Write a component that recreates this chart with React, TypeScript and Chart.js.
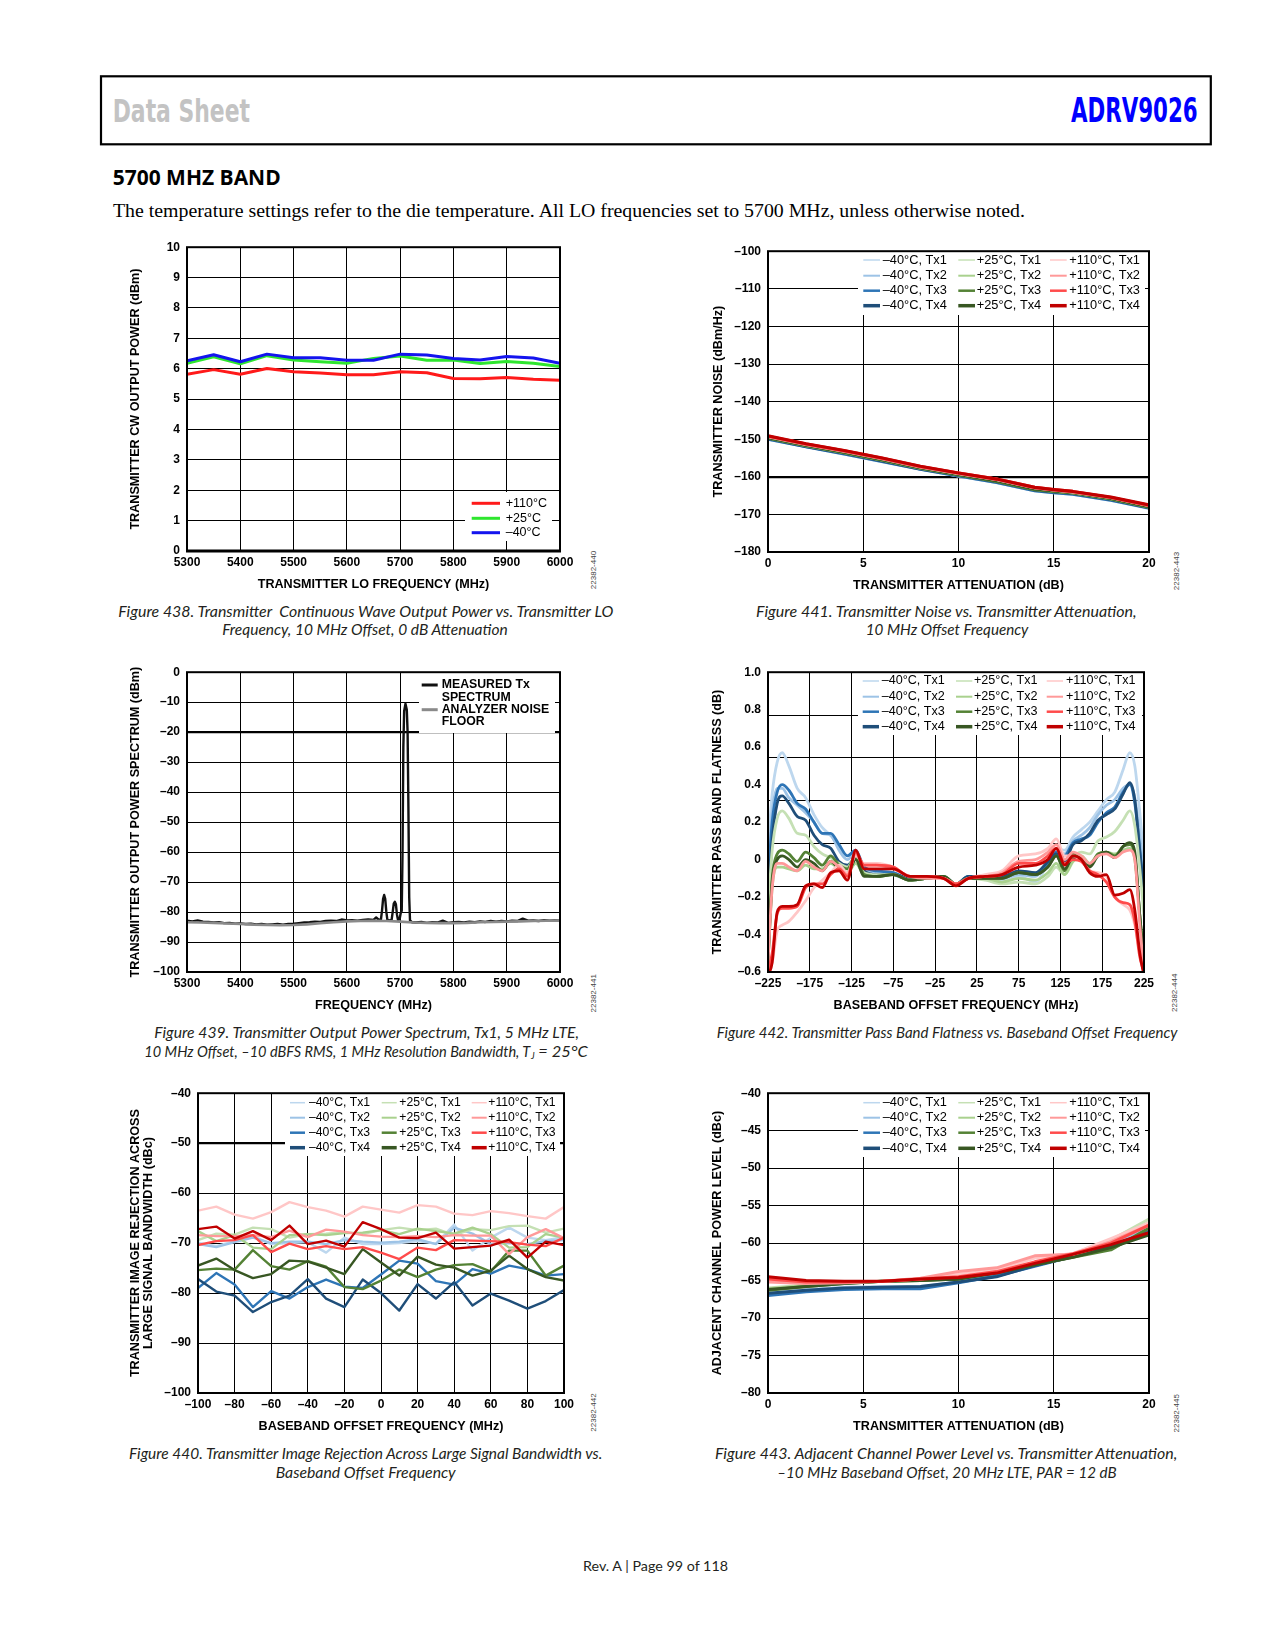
import React, { useEffect, useRef } from "react";
import { Chart, registerables } from "chart.js";

Chart.register(...registerables);

const FONT = "'Liberation Sans', Arial, Helvetica, sans-serif";
const COND = "'DejaVu Sans Condensed', 'DejaVu Sans', sans-serif";
const HEAD = "'Open Sans', 'Noto Sans', sans-serif";
const SERIF = "'Liberation Serif', 'DejaVu Serif', serif";
const CAP = "Lato, 'Open Sans', sans-serif";
Chart.defaults.font.family = FONT;
Chart.defaults.color = "#000";

// ---------------- Figure 438 ----------------
const F438_FREQ = [5300, 5350, 5400, 5450, 5500, 5550, 5600, 5650, 5700, 5750, 5800, 5850, 5900, 5950, 6000];
const F438_P110 = [5.82, 5.97, 5.82, 6.01, 5.9, 5.86, 5.8, 5.8, 5.9, 5.87, 5.68, 5.67, 5.71, 5.65, 5.62];
const F438_P25 = [6.18, 6.39, 6.16, 6.43, 6.29, 6.23, 6.18, 6.34, 6.42, 6.28, 6.29, 6.17, 6.24, 6.18, 6.07];
const F438_M40 = [6.26, 6.46, 6.23, 6.48, 6.36, 6.36, 6.28, 6.28, 6.48, 6.45, 6.34, 6.29, 6.4, 6.35, 6.18];
const F438_LABELS = ["+110°C", "+25°C", "–40°C"];
const F438_XTICKS = [5300, 5400, 5500, 5600, 5700, 5800, 5900, 6000];
const F438_YTICKS = [0, 1, 2, 3, 4, 5, 6, 7, 8, 9, 10];

// ---------------- Figure 441 ----------------
const F441_ATT = [0, 2, 4, 6, 8, 10, 12, 14, 15, 16, 18, 20];
const F441_M40_TX1 = [-150.0, -152.0, -153.9, -156.0, -158.0, -159.8, -161.5, -163.7, -164.2, -164.6, -166.2, -168.4];
const F441_M40_TX2 = [-149.9, -151.9, -153.8, -155.9, -157.9, -159.7, -161.4, -163.6, -164.1, -164.5, -166.1, -168.3];
const F441_M40_TX3 = [-150.0, -152.0, -153.9, -155.9, -158.0, -159.8, -161.5, -163.7, -164.2, -164.6, -166.2, -168.3];
const F441_M40_TX4 = [-149.8, -151.9, -153.7, -155.8, -157.9, -159.6, -161.3, -163.5, -164.0, -164.4, -166.0, -168.2];
const F441_P25_TX1 = [-149.6, -151.7, -153.5, -155.5, -157.7, -159.4, -161.1, -163.3, -163.8, -164.2, -165.8, -168.0];
const F441_P25_TX2 = [-149.6, -151.6, -153.5, -155.5, -157.6, -159.4, -161.0, -163.2, -163.8, -164.2, -165.8, -167.9];
const F441_P25_TX3 = [-149.7, -151.7, -153.6, -155.6, -157.7, -159.5, -161.2, -163.4, -163.9, -164.3, -165.9, -168.1];
const F441_P25_TX4 = [-149.5, -151.6, -153.4, -155.4, -157.6, -159.3, -161.0, -163.2, -163.7, -164.1, -165.7, -167.9];
const F441_P110_TX1 = [-149.3, -151.4, -153.2, -155.2, -157.4, -159.1, -160.7, -162.9, -163.5, -164.0, -165.5, -167.6];
const F441_P110_TX2 = [-149.2, -151.3, -153.1, -155.1, -157.3, -159.1, -160.7, -162.9, -163.5, -164.0, -165.5, -167.6];
const F441_P110_TX3 = [-149.2, -151.3, -153.1, -155.1, -157.3, -159.0, -160.6, -162.8, -163.4, -163.9, -165.5, -167.6];
const F441_P110_TX4 = [-149.1, -151.2, -153.0, -155.0, -157.2, -159.0, -160.6, -162.8, -163.4, -163.9, -165.4, -167.5];
const F441_XTICKS = [0, 5, 10, 15, 20];
const F441_YTICKS = [-180, -170, -160, -150, -140, -130, -120, -110, -100];

// ---------------- Figure 439 ----------------
const F439_MEAS_F = [
  5300, 5310, 5320, 5330, 5340, 5350, 5360, 5370, 5380, 5390,
  5400, 5410, 5420, 5430, 5440, 5450, 5460, 5470, 5480, 5490,
  5500, 5510, 5520, 5530, 5540, 5550, 5560, 5570, 5580, 5590,
  5600, 5610, 5620, 5630, 5640, 5650, 5655, 5660, 5664, 5666,
  5668, 5670, 5672, 5674, 5676, 5680, 5684, 5686, 5688, 5690,
  5692, 5694, 5696, 5699, 5701, 5703, 5704.5, 5706, 5707.5, 5710,
  5712.5, 5714, 5715.5, 5717, 5718.5, 5722, 5730, 5740, 5750, 5760,
  5770, 5780, 5790, 5800, 5810, 5820, 5830, 5840, 5850, 5860,
  5870, 5880, 5890, 5900, 5910, 5920, 5930, 5940, 5950, 5960,
  5970, 5980, 5990, 6000,
];
const F439_MEAS_P = [
  -82.9, -83.1, -82.8, -83.2, -83.3, -83.5, -83.4, -83.7, -83.6, -83.9,
  -83.8, -84.0, -83.9, -84.1, -84.0, -84.2, -84.1, -84.0, -84.2, -84.0,
  -83.9, -83.7, -83.5, -83.4, -83.2, -83.3, -83.0, -82.9, -83.0, -82.5,
  -82.8, -82.7, -82.9, -82.6, -82.5, -82.6, -81.8, -82.6, -82.4, -79.5,
  -75.6, -74.3, -75.6, -79.8, -82.6, -82.8, -82.6, -80.0, -77.2, -76.6,
  -77.4, -80.8, -82.7, -82.4, -80.4, -79.6, -60.0, -25.0, -13.0, -10.5,
  -12.5, -20.0, -45.0, -75.0, -82.8, -83.4, -83.5, -83.3, -83.6, -83.4,
  -83.5, -82.9, -83.6, -83.4, -83.3, -83.5, -83.2, -83.4, -83.1, -83.3,
  -83.0, -83.2, -83.0, -83.1, -82.9, -83.0, -82.2, -82.9, -82.8, -83.0,
  -82.7, -82.9, -82.8, -82.9,
];
const F439_FLOOR_F = [5300, 5325, 5350, 5375, 5400, 5425, 5450, 5475, 5500, 5525, 5550, 5575, 5600, 5625, 5650, 5675, 5700, 5725, 5750, 5775, 5800, 5825, 5850, 5875, 5900, 5925, 5950, 5975, 6000];
const F439_FLOOR_P = [-83.4, -83.5, -83.6, -83.8, -84.0, -84.2, -84.3, -84.4, -84.3, -84.1, -83.7, -83.4, -83.1, -83.0, -82.9, -83.0, -83.2, -83.5, -83.6, -83.7, -83.7, -83.6, -83.4, -83.3, -83.2, -83.1, -83.0, -82.9, -82.9];
const F439_LABELS = [["MEASURED Tx", "SPECTRUM"], ["ANALYZER NOISE", "FLOOR"]];
const F439_XTICKS = [5300, 5400, 5500, 5600, 5700, 5800, 5900, 6000];
const F439_YTICKS = [-100, -90, -80, -70, -60, -50, -40, -30, -20, -10, 0];

// ---------------- Figure 442 ----------------
const F442_FREQ = [-225, -220, -214, -208, -200, -190, -180, -170, -160, -150, -140, -130, -120, -110, -95, -75, -55, -35, -15, 0, 15, 35, 55, 75, 95, 110, 120, 130, 140, 150, 160, 170, 180, 190, 200, 208, 214, 220, 225];
const F442_M40_TX1 = [0.06, 0.35, 0.52, 0.57, 0.5, 0.38, 0.33, 0.24, 0.17, 0.13, 0.07, 0.02, 0.04, -0.04, -0.06, -0.07, -0.11, -0.1, -0.09, -0.13, -0.09, -0.1, -0.11, -0.09, -0.12, -0.02, 0.06, 0.05, 0.12, 0.16, 0.2, 0.26, 0.32, 0.36, 0.48, 0.57, 0.5, 0.25, 0.0];
const F442_M40_TX2 = [-0.05, 0.25, 0.38, 0.38, 0.33, 0.29, 0.25, 0.2, 0.14, 0.13, 0.05, 0.0, 0.04, -0.05, -0.07, -0.08, -0.11, -0.1, -0.09, -0.13, -0.09, -0.1, -0.1, -0.08, -0.09, -0.01, 0.05, 0.03, 0.1, 0.13, 0.17, 0.24, 0.29, 0.32, 0.38, 0.4, 0.33, 0.12, -0.12];
const F442_M40_TX3 = [-0.12, 0.2, 0.36, 0.4, 0.37, 0.3, 0.27, 0.2, 0.14, 0.14, 0.08, 0.02, 0.05, -0.04, -0.06, -0.07, -0.1, -0.1, -0.09, -0.13, -0.09, -0.09, -0.09, -0.07, -0.08, -0.02, 0.04, 0.02, 0.09, 0.11, 0.13, 0.2, 0.25, 0.28, 0.36, 0.4, 0.3, 0.05, -0.18];
const F442_M40_TX4 = [-0.26, 0.1, 0.3, 0.34, 0.3, 0.23, 0.21, 0.13, 0.08, 0.06, -0.01, -0.03, 0.01, -0.06, -0.08, -0.08, -0.1, -0.1, -0.09, -0.13, -0.09, -0.09, -0.09, -0.06, -0.07, -0.01, 0.03, -0.01, 0.08, 0.1, 0.14, 0.21, 0.24, 0.27, 0.35, 0.41, 0.32, 0.04, -0.18];
const F442_P25_TX1 = [-0.28, 0.05, 0.22, 0.26, 0.22, 0.14, 0.13, 0.07, 0.03, 0.01, -0.02, -0.04, 0.02, -0.07, -0.08, -0.08, -0.11, -0.1, -0.09, -0.13, -0.1, -0.11, -0.13, -0.12, -0.13, -0.09, -0.04, -0.08, 0.01, 0.04, 0.03, 0.1, 0.12, 0.15, 0.21, 0.26, 0.18, -0.05, -0.3];
const F442_P25_TX2 = [-0.55, -0.15, -0.04, -0.04, -0.05, -0.06, -0.03, -0.05, -0.05, -0.02, -0.05, -0.07, -0.02, -0.08, -0.09, -0.08, -0.11, -0.1, -0.09, -0.13, -0.1, -0.1, -0.12, -0.1, -0.11, -0.07, -0.02, -0.08, -0.01, 0.02, -0.02, 0.03, 0.04, 0.03, 0.05, 0.06, 0.0, -0.3, -0.55];
const F442_P25_TX3 = [-0.52, -0.1, 0.03, 0.05, 0.03, -0.01, 0.04, 0.01, -0.03, 0.02, -0.03, -0.05, 0.02, -0.08, -0.09, -0.08, -0.11, -0.1, -0.09, -0.13, -0.1, -0.1, -0.1, -0.07, -0.08, -0.04, 0.02, -0.06, 0.03, 0.0, -0.03, 0.03, 0.04, 0.02, 0.07, 0.08, 0.02, -0.3, -0.55];
const F442_P25_TX4 = [-0.55, -0.12, 0.0, 0.02, 0.0, -0.04, 0.0, -0.02, -0.06, -0.01, -0.05, -0.07, 0.0, -0.09, -0.09, -0.08, -0.11, -0.1, -0.09, -0.13, -0.1, -0.1, -0.1, -0.07, -0.08, -0.04, 0.02, -0.05, 0.01, 0.01, -0.04, 0.02, 0.04, 0.01, 0.07, 0.09, 0.04, -0.3, -0.55];
const F442_P110_TX1 = [-0.6, -0.55, -0.38, -0.35, -0.33, -0.28, -0.22, -0.15, -0.11, -0.07, -0.03, -0.07, 0.02, -0.02, -0.02, -0.04, -0.09, -0.09, -0.1, -0.13, -0.1, -0.08, -0.06, 0.02, 0.03, 0.06, 0.11, 0.02, 0.02, -0.01, -0.06, -0.07, -0.09, -0.2, -0.24, -0.27, -0.35, -0.5, -0.6];
const F442_P110_TX2 = [-0.55, -0.15, -0.02, -0.02, -0.04, -0.06, -0.01, -0.04, -0.06, -0.01, -0.04, -0.08, 0.03, -0.03, -0.03, -0.05, -0.09, -0.1, -0.1, -0.13, -0.1, -0.09, -0.07, -0.01, 0.0, 0.04, 0.08, 0.0, 0.04, 0.02, -0.02, 0.02, 0.03, 0.01, 0.04, 0.05, 0.0, -0.35, -0.6];
const F442_P110_TX3 = [-0.6, -0.5, -0.29, -0.26, -0.26, -0.25, -0.15, -0.13, -0.13, -0.08, -0.05, -0.09, 0.04, -0.03, -0.03, -0.04, -0.09, -0.09, -0.1, -0.13, -0.1, -0.09, -0.08, -0.02, -0.02, 0.02, 0.06, -0.02, 0.0, -0.01, -0.06, -0.08, -0.12, -0.2, -0.23, -0.24, -0.33, -0.52, -0.6];
const F442_P110_TX4 = [-0.62, -0.55, -0.28, -0.25, -0.25, -0.24, -0.14, -0.13, -0.15, -0.07, -0.06, -0.11, 0.05, -0.05, -0.05, -0.05, -0.09, -0.09, -0.1, -0.14, -0.1, -0.09, -0.08, -0.04, -0.03, 0.0, 0.06, -0.03, 0.02, 0.0, -0.07, -0.09, -0.08, -0.19, -0.18, -0.16, -0.27, -0.5, -0.62];
const F442_XTICKS = [-225, -175, -125, -75, -25, 25, 75, 125, 175, 225];
const F442_YTICKS = [-0.6, -0.4, -0.2, 0, 0.2, 0.4, 0.6, 0.8, 1.0];
const F442_GRID_DIVS = [0, 1, 2, 3, 4, 5, 6, 7];

// ---------------- Figure 440 ----------------
const F440_FREQ = [-100, -90, -80, -70, -60, -50, -40, -30, -20, -10, 0, 10, 20, 30, 40, 50, 60, 70, 80, 90, 100];
const F440_M40_TX1 = [-69.9, -70.6, -69.6, -68.6, -70.2, -70.0, -69.8, -71.9, -68.9, -70.2, -70.2, -70.0, -69.6, -70.1, -66.3, -71.5, -68.9, -66.9, -68.9, -69.4, -68.8];
const F440_M40_TX2 = [-70.2, -70.8, -69.8, -68.9, -70.0, -69.7, -69.7, -70.2, -69.4, -69.7, -69.9, -69.7, -69.2, -70.2, -66.9, -68.1, -70.2, -70.0, -70.2, -69.6, -69.4];
const F440_M40_TX3 = [-79.0, -76.0, -78.3, -82.8, -79.6, -81.1, -78.8, -77.3, -78.7, -79.0, -76.3, -73.5, -74.1, -77.6, -78.3, -75.2, -76.1, -74.5, -75.2, -76.5, -76.2];
const F440_M40_TX4 = [-77.2, -79.7, -80.5, -83.8, -81.8, -80.5, -77.2, -81.1, -82.8, -77.3, -80.0, -83.5, -78.2, -81.1, -77.8, -82.5, -80.1, -81.5, -83.1, -81.6, -79.4];
const F440_P25_TX1 = [-69.4, -68.1, -68.3, -66.9, -67.2, -68.9, -68.2, -68.1, -67.8, -68.2, -67.4, -66.9, -67.4, -67.1, -68.4, -67.2, -67.4, -66.6, -66.5, -67.9, -67.1];
const F440_P25_TX2 = [-67.6, -69.6, -68.4, -70.9, -71.2, -68.4, -68.2, -68.4, -68.0, -67.9, -67.4, -68.2, -67.1, -67.6, -68.1, -66.9, -68.2, -70.9, -70.8, -68.2, -68.9];
const F440_P25_TX3 = [-75.4, -75.1, -75.3, -71.4, -74.6, -75.3, -73.6, -74.7, -78.8, -79.2, -77.5, -75.3, -76.8, -75.3, -74.4, -74.2, -75.7, -71.5, -71.5, -76.5, -74.5];
const F440_P25_TX4 = [-74.5, -73.1, -75.4, -77.0, -76.2, -73.5, -73.7, -74.9, -76.2, -71.2, -73.9, -76.5, -72.7, -74.3, -74.9, -76.5, -75.5, -72.5, -75.2, -76.8, -77.5];
const F440_P110_TX1 = [-63.5, -62.7, -64.3, -65.1, -63.8, -61.8, -62.8, -63.5, -64.7, -62.7, -63.3, -63.9, -62.4, -62.7, -64.1, -64.4, -63.6, -64.0, -64.6, -65.1, -62.8];
const F440_P110_TX2 = [-68.4, -68.6, -68.6, -68.4, -68.8, -67.5, -68.8, -67.3, -67.7, -68.4, -68.7, -68.8, -68.6, -68.8, -68.4, -68.5, -68.5, -72.2, -68.8, -67.2, -69.0];
const F440_P110_TX3 = [-70.4, -69.6, -69.4, -68.4, -71.8, -70.1, -71.2, -70.6, -71.2, -70.8, -71.9, -73.2, -70.9, -71.4, -69.4, -69.5, -69.6, -69.8, -70.3, -70.6, -68.9];
const F440_P110_TX4 = [-67.2, -66.7, -69.1, -67.6, -69.4, -66.5, -70.2, -69.5, -70.7, -65.8, -67.2, -68.9, -69.0, -67.9, -71.1, -70.8, -70.5, -69.3, -72.9, -69.7, -70.4];
const F440_XTICKS = [-100, -80, -60, -40, -20, 0, 20, 40, 60, 80, 100];
const F440_YTICKS = [-100, -90, -80, -70, -60, -50, -40];

// ---------------- Figure 443 ----------------
const F443_ATT = [0, 2, 4, 6, 8, 10, 12, 14, 16, 18, 20];
const F443_M40_TX1 = [-66.6, -66.2, -65.9, -65.8, -65.8, -65.2, -64.3, -63.0, -61.5, -60.2, -57.5];
const F443_M40_TX2 = [-66.8, -66.4, -66.0, -65.9, -65.9, -65.2, -64.3, -63.0, -61.6, -60.4, -57.9];
const F443_M40_TX3 = [-67.0, -66.5, -66.2, -66.1, -66.1, -65.3, -64.4, -63.1, -61.8, -60.5, -58.4];
const F443_M40_TX4 = [-66.7, -66.3, -66.0, -65.9, -65.8, -65.2, -64.5, -63.0, -61.8, -60.3, -58.6];
const F443_P25_TX1 = [-66.0, -65.6, -65.3, -65.1, -64.9, -64.6, -63.6, -62.7, -61.6, -59.6, -56.8];
const F443_P25_TX2 = [-66.1, -65.7, -65.3, -65.1, -65.0, -64.7, -63.8, -62.8, -61.7, -59.9, -57.3];
const F443_P25_TX3 = [-66.3, -65.8, -65.4, -65.1, -65.0, -64.8, -63.9, -62.9, -61.9, -60.9, -58.0];
const F443_P25_TX4 = [-66.2, -65.8, -65.4, -65.1, -65.0, -64.8, -64.0, -62.9, -61.9, -60.6, -58.9];
const F443_P110_TX1 = [-65.0, -65.1, -65.2, -65.1, -64.8, -64.2, -63.6, -62.0, -61.4, -59.4, -57.3];
const F443_P110_TX2 = [-65.2, -65.4, -65.3, -65.1, -64.7, -63.8, -63.3, -61.7, -61.5, -59.8, -57.6];
const F443_P110_TX3 = [-64.8, -65.2, -65.2, -65.1, -64.8, -64.5, -63.8, -62.5, -61.4, -60.0, -57.6];
const F443_P110_TX4 = [-64.5, -65.0, -65.1, -65.1, -64.8, -64.6, -64.0, -62.7, -61.5, -60.2, -58.6];
const F443_XTICKS = [0, 5, 10, 15, 20];
const F443_YTICKS = [-80, -75, -70, -65, -60, -55, -50, -45, -40];

// ---------------- shared legend names / colours ----------------
const TEMPS = ["–40°C", "+25°C", "+110°C"];
const TXS = ["Tx1", "Tx2", "Tx3", "Tx4"];
const PALETTE = [
  ["#bdd7ee", "#9dc3e6", "#2e75b6", "#1f4e79"],
  ["#c5e0b4", "#a9d18e", "#548235", "#385723"],
  ["#ffc7c7", "#ff9999", "#ff4b4b", "#c00000"],
];
const TX_SWATCH = [1.5, 2, 2.5, 3.5];

const dash = (v: number) => String(v).replace("-", "–");
const fmt442 = (v: number) => (Math.abs(v) < 1e-9 ? "0" : (v < 0 ? "–" : "") + Math.abs(v).toFixed(1));
const pts = (xs: number[], ys: number[]) => xs.map((x, i) => ({ x, y: ys[i] }));

function line(xs: number[], ys: number[], color: string, width: number, order: number, label: string, tension = 0) {
  return {
    label, data: pts(xs, ys), borderColor: color, backgroundColor: color, borderWidth: width,
    pointRadius: 0, fill: false, tension, order, xAxisID: "x", yAxisID: "y",
    cubicInterpolationMode: tension > 0 ? "monotone" : "default",
  };
}

function twelve(xs: number[], series: number[][], width: number, tension = 0) {
  return series.map((ys, i) => {
    const t = Math.floor(i / 4), k = i % 4;
    return line(xs, ys, PALETTE[t][k], width, 11 - i, `${TEMPS[t]}, ${TXS[k]}`, tension);
  });
}
const swatch12 = [0, 1, 2].flatMap(() => TX_SWATCH);

function legendPlugin(cfg: any, ox: number, oy: number) {
  return {
    id: "inLegend",
    afterDatasetsDraw(chart: any) {
      if (!cfg) return;
      const ctx = chart.ctx;
      ctx.save();
      ctx.fillStyle = "#fff";
      ctx.fillRect(cfg.box[0] - ox, cfg.box[1] - oy, cfg.box[2] - cfg.box[0], cfg.box[3] - cfg.box[1]);
      ctx.font = cfg.font;
      ctx.textBaseline = "middle";
      ctx.textAlign = "left";
      chart.data.datasets.forEach((ds: any, i: number) => {
        const col = Math.floor(i / cfg.perCol), row = i % cfg.perCol;
        const y = cfg.rows[row] - oy;
        const sx = cfg.colSw[col] - ox;
        ctx.strokeStyle = ds.borderColor;
        ctx.lineWidth = cfg.sw[i];
        ctx.lineCap = "butt";
        ctx.beginPath();
        ctx.moveTo(sx, y);
        ctx.lineTo(sx + cfg.len, y);
        ctx.stroke();
        ctx.fillStyle = "#000";
        const lines = cfg.lines ? cfg.lines[i] : [ds.label];
        lines.forEach((t: string, j: number) => ctx.fillText(t, cfg.colTx[col] - ox, y + j * (cfg.lh || 0)));
      });
      ctx.restore();
    },
  };
}

function framePlugin(bottomW?: number) {
  return {
    id: "frame",
    afterDraw(chart: any) {
      const { left, top, right, bottom } = chart.chartArea;
      const ctx = chart.ctx;
      ctx.save();
      ctx.strokeStyle = "#000";
      ctx.lineWidth = 2;
      ctx.strokeRect(left, top, right - left, bottom - top);
      if (bottomW) {
        ctx.lineWidth = bottomW;
        ctx.beginPath();
        ctx.moveTo(left - 1, bottom);
        ctx.lineTo(right + 1, bottom);
        ctx.stroke();
      }
      ctx.restore();
    },
  };
}

const thickAt = (val: number) => (c: any) => (c.tick && Math.abs(c.tick.value - val) < 1e-6 ? 2.2 : 1);

function buildConfig(spec: any, ox: number, oy: number) {
  const tickFont = { family: FONT, size: 12, weight: "bold" };
  const titleFont = { family: FONT, size: 12.6, weight: "bold", lineHeight: 1 };
  const scales: any = {
    x: {
      type: "linear", position: "bottom", min: spec.x.min, max: spec.x.max,
      afterBuildTicks: (s: any) => { s.ticks = spec.x.ticks.map((v: number) => ({ value: v })); },
      afterFit: (s: any) => { s.height = 50; },
      ticks: { autoSkip: false, maxRotation: 0, minRotation: 0, padding: 4, font: tickFont, color: "#000", callback: (v: number) => (spec.x.fmt || dash)(v) },
      grid: { color: "#000", lineWidth: spec.x.gridW || 1, drawTicks: false },
      border: { display: false },
      title: { display: true, text: spec.x.title, font: titleFont, color: "#000", padding: { top: 0, bottom: 10.2 } },
    },
    y: {
      type: "linear", position: "left", min: spec.y.min, max: spec.y.max,
      afterBuildTicks: (s: any) => { s.ticks = spec.y.ticks.map((v: number) => ({ value: v })); },
      afterFit: (s: any) => { s.width = 90; },
      ticks: { autoSkip: false, padding: 7, font: tickFont, color: "#000", callback: (v: number) => (spec.y.fmt || dash)(v) },
      grid: { display: !spec.yGrid, color: "#000", lineWidth: spec.y.gridW || 1, drawTicks: false },
      border: { display: false },
      title: { display: true, text: spec.y.title, font: titleFont, color: "#000", padding: { top: spec.y.titleX - ox - 6.3, bottom: 0 } },
    },
  };
  if (spec.yGrid) {
    scales.yg = {
      type: "linear", position: "left", min: 0, max: spec.yGrid[spec.yGrid.length - 1],
      afterBuildTicks: (s: any) => { s.ticks = spec.yGrid.map((v: number) => ({ value: v })); },
      afterFit: (s: any) => { s.width = 0; },
      ticks: { display: false },
      grid: { color: "#000", lineWidth: 1, drawTicks: false },
      border: { display: false },
      title: { display: false },
    };
  }
  return {
    type: "line",
    data: { datasets: spec.datasets },
    options: {
      responsive: false, animation: false, devicePixelRatio: 1, events: [],
      layout: { autoPadding: false, padding: { left: 0, top: 12, right: 25, bottom: 0 } },
      plugins: { legend: { display: false }, tooltip: { enabled: false } },
      elements: { point: { radius: 0 }, line: { borderJoinStyle: "round", borderCapStyle: "round" } },
      scales,
    },
    plugins: [legendPlugin(spec.legend, ox, oy), framePlugin(spec.bottomW)],
  };
}

const SPECS: any[] = [
  {
    key: "438", plot: [187, 245, 560, 551],
    x: { min: 5300, max: 6000, ticks: F438_XTICKS, title: "TRANSMITTER LO FREQUENCY (MHz)" },
    y: { min: 0, max: 10, ticks: F438_YTICKS, title: "TRANSMITTER CW OUTPUT POWER (dBm)", titleX: 135.7 },
    datasets: [
      line(F438_FREQ, F438_P110, "#ff1a1a", 3, 2, F438_LABELS[0]),
      line(F438_FREQ, F438_P25, "#2ee62e", 3, 1, F438_LABELS[1]),
      line(F438_FREQ, F438_M40, "#1414ee", 3, 0, F438_LABELS[2]),
    ],
    legend: { box: [465, 492, 552, 541], colSw: [471.7], colTx: [505.7], len: 28.3, rows: [503.3, 518.3, 532.7], perCol: 3, font: `12.5px ${FONT}`, sw: [3, 3, 3] },
    bottomW: 3,
  },
  {
    key: "441", plot: [768, 249, 1149, 552],
    x: { min: 0, max: 20, ticks: F441_XTICKS, title: "TRANSMITTER ATTENUATION (dB)" },
    y: { min: -180, max: -100, ticks: F441_YTICKS, title: "TRANSMITTER NOISE (dBm/Hz)", titleX: 718.3, gridW: thickAt(-160) },
    datasets: twelve(F441_ATT, [F441_M40_TX1, F441_M40_TX2, F441_M40_TX3, F441_M40_TX4, F441_P25_TX1, F441_P25_TX2, F441_P25_TX3, F441_P25_TX4, F441_P110_TX1, F441_P110_TX2, F441_P110_TX3, F441_P110_TX4], 3.2),
    legend: { box: [858, 249, 1145, 315], colSw: [863.3, 958.3, 1050], colTx: [882.7, 976.7, 1069.3], len: 16.7, rows: [260, 275.7, 290.7, 305.7], perCol: 4, font: `12.8px ${FONT}`, sw: swatch12 },
  },
  {
    key: "439", plot: [187, 670, 560, 972],
    x: { min: 5300, max: 6000, ticks: F439_XTICKS, title: "FREQUENCY (MHz)" },
    y: { min: -100, max: 0, ticks: F439_YTICKS, title: "TRANSMITTER OUTPUT POWER SPECTRUM (dBm)", titleX: 135.7, gridW: thickAt(-20) },
    datasets: [
      line(F439_MEAS_F, F439_MEAS_P, "#111111", 2.4, 1, F439_LABELS[0].join(" ")),
      line(F439_FLOOR_F, F439_FLOOR_P, "#8a8a8a", 2.6, 0, F439_LABELS[1].join(" ")),
    ],
    legend: { box: [419, 670, 555, 733], colSw: [421.7], colTx: [441.7], len: 16, rows: [685, 709.7], perCol: 2, font: `bold 12.3px ${FONT}`, sw: [3, 3], lines: F439_LABELS, lh: 12.4 },
  },
  {
    key: "442", plot: [768, 670, 1144, 972],
    x: { min: -225, max: 225, ticks: F442_XTICKS, title: "BASEBAND OFFSET FREQUENCY (MHz)" },
    y: { min: -0.6, max: 1.0, ticks: F442_YTICKS, title: "TRANSMITTER PASS BAND FLATNESS (dB)", titleX: 718, fmt: fmt442 },
    yGrid: F442_GRID_DIVS,
    datasets: twelve(F442_FREQ, [F442_M40_TX1, F442_M40_TX2, F442_M40_TX3, F442_M40_TX4, F442_P25_TX1, F442_P25_TX2, F442_P25_TX3, F442_P25_TX4, F442_P110_TX1, F442_P110_TX2, F442_P110_TX3, F442_P110_TX4], 2.8, 0.4),
    legend: { box: [858, 670, 1142, 735], colSw: [862.7, 956, 1046.7], colTx: [881.7, 974, 1066], len: 16.3, rows: [681, 696.7, 711.7, 726.7], perCol: 4, font: `12.6px ${FONT}`, sw: swatch12 },
  },
  {
    key: "440", plot: [198, 1091, 564, 1393],
    x: { min: -100, max: 100, ticks: F440_XTICKS, title: "BASEBAND OFFSET FREQUENCY (MHz)" },
    y: { min: -100, max: -40, ticks: F440_YTICKS, title: ["TRANSMITTER IMAGE REJECTION ACROSS", "LARGE SIGNAL BANDWIDTH (dBc)"], titleX: 135.7, gridW: thickAt(-50) },
    datasets: twelve(F440_FREQ, [F440_M40_TX1, F440_M40_TX2, F440_M40_TX3, F440_M40_TX4, F440_P25_TX1, F440_P25_TX2, F440_P25_TX3, F440_P25_TX4, F440_P110_TX1, F440_P110_TX2, F440_P110_TX3, F440_P110_TX4], 2.4),
    legend: { box: [285, 1091, 560, 1156], colSw: [290, 381.7, 471.7], colTx: [309, 399.3, 488.3], len: 15, rows: [1102.7, 1117.7, 1132.7, 1147.7], perCol: 4, font: `12.2px ${FONT}`, sw: swatch12 },
  },
  {
    key: "443", plot: [768, 1091, 1149, 1393],
    x: { min: 0, max: 20, ticks: F443_XTICKS, title: "TRANSMITTER ATTENUATION (dB)" },
    y: { min: -80, max: -40, ticks: F443_YTICKS, title: "ADJACENT CHANNEL POWER LEVEL (dBc)", titleX: 718 },
    datasets: twelve(F443_ATT, [F443_M40_TX1, F443_M40_TX2, F443_M40_TX3, F443_M40_TX4, F443_P25_TX1, F443_P25_TX2, F443_P25_TX3, F443_P25_TX4, F443_P110_TX1, F443_P110_TX2, F443_P110_TX3, F443_P110_TX4], 3),
    legend: { box: [858, 1091, 1145, 1157], colSw: [863.3, 958.3, 1050], colTx: [882.7, 976.7, 1069.3], len: 16.7, rows: [1102.7, 1117.7, 1132.7, 1148.3], perCol: 4, font: `12.8px ${FONT}`, sw: swatch12 },
  },
];

function ChartCanvas({ spec }: { spec: any }) {
  const ref = useRef<HTMLCanvasElement | null>(null);
  const [L, T, R, B] = spec.plot;
  const ox = L - 90, oy = T - 12;
  const w = R - L + 115, h = B - T + 62;
  useEffect(() => {
    if (!ref.current) return;
    const chart = new Chart(ref.current, buildConfig(spec, ox, oy) as any);
    return () => chart.destroy();
  }, []);
  return <canvas ref={ref} width={w} height={h} style={{ position: "absolute", left: ox, top: oy, width: w, height: h }} />;
}

function Txt(p: any) {
  return (
    <text x={p.x} y={p.y} textLength={p.w} lengthAdjust="spacingAndGlyphs" fontSize={p.size} fontFamily={p.family}
      fontWeight={p.weight || "normal"} fontStyle={p.italic ? "italic" : "normal"} fill={p.fill || "#231f20"} style={{ whiteSpace: "pre" }}>
      {p.children}
    </text>
  );
}

const CAPTIONS = [
  { x: 118.3, y: 616.7, w: 495, t: "Figure 438. Transmitter  Continuous Wave Output Power vs. Transmitter LO" },
  { x: 222.3, y: 635, w: 285.4, t: "Frequency, 10 MHz Offset, 0 dB Attenuation" },
  { x: 756, y: 616.7, w: 380.7, t: "Figure 441. Transmitter Noise vs. Transmitter Attenuation," },
  { x: 865.7, y: 635, w: 162.7, t: "10 MHz Offset Frequency" },
  { x: 154.3, y: 1037.7, w: 424.7, t: "Figure 439. Transmitter Output Power Spectrum, Tx1, 5 MHz LTE," },
  { x: 144.3, y: 1056.7, w: 386, t: "10 MHz Offset, –10 dBFS RMS, 1 MHz Resolution Bandwidth, T" },
  { x: 538.3, y: 1056.7, w: 49.4, t: "= 25°C" },
  { x: 716.7, y: 1037.7, w: 460.7, t: "Figure 442. Transmitter Pass Band Flatness vs. Baseband Offset Frequency" },
  { x: 129, y: 1459.3, w: 473.3, t: "Figure 440. Transmitter Image Rejection Across Large Signal Bandwidth vs." },
  { x: 275.7, y: 1477.7, w: 180, t: "Baseband Offset Frequency" },
  { x: 715, y: 1459.3, w: 462.3, t: "Figure 443. Adjacent Channel Power Level vs. Transmitter Attenuation," },
  { x: 777.3, y: 1477.7, w: 339.3, t: "–10 MHz Baseband Offset, 20 MHz LTE, PAR = 12 dB" },
];

const IDS = [
  { x: 593.3, y: 570, t: "22382-440" },
  { x: 1176.7, y: 571, t: "22382-443" },
  { x: 593.3, y: 993.3, t: "22382-441" },
  { x: 1174, y: 992.8, t: "22382-444" },
  { x: 593.3, y: 1412.5, t: "22382-442" },
  { x: 1176, y: 1413.3, t: "22382-445" },
];

export default function App() {
  return (
    <div style={{ position: "absolute", left: 0, top: 0, width: 1275, height: 1650, background: "#fff", overflow: "hidden" }}>
      <svg width={1275} height={1650} style={{ position: "absolute", left: 0, top: 0 }}>
        <rect x={101} y={76.3} width={1109.8} height={68} fill="none" stroke="#000" strokeWidth={2.2} />
        <Txt x={112.7} y={122} w={137.3} size={32} family={COND} weight="bold" fill="#c3c3c3">Data Sheet</Txt>
        <Txt x={1071} y={122} w={126.7} size={33} family={COND} weight="bold" fill="#0000ff">ADRV9026</Txt>
        <Txt x={112.7} y={184.7} w={168} size={21} family={HEAD} weight="bold" fill="#000">5700 MHZ BAND</Txt>
        <Txt x={113} y={217} w={912} size={19} family={SERIF} fill="#000">The temperature settings refer to the die temperature. All LO frequencies set to 5700 MHz, unless otherwise noted.</Txt>
        {CAPTIONS.map((c, i) => (
          <Txt key={i} x={c.x} y={c.y} w={c.w} size={14.5} family={CAP} italic>{c.t}</Txt>
        ))}
        <text x={531} y={1059} fontSize={9} fontFamily={CAP} fontStyle="italic" fill="#231f20">J</text>
        {IDS.map((d, i) => (
          <text key={i} transform={`translate(${d.x},${d.y}) rotate(-90)`} textAnchor="middle" dominantBaseline="central"
            fontSize={8} fontFamily={FONT} fill="#444">{d.t}</text>
        ))}
        <Txt x={583} y={1571} w={145} size={14} family={CAP} fill="#231f20">Rev. A | Page 99 of 118</Txt>
      </svg>
      {SPECS.map((s) => <ChartCanvas key={s.key} spec={s} />)}
    </div>
  );
}
